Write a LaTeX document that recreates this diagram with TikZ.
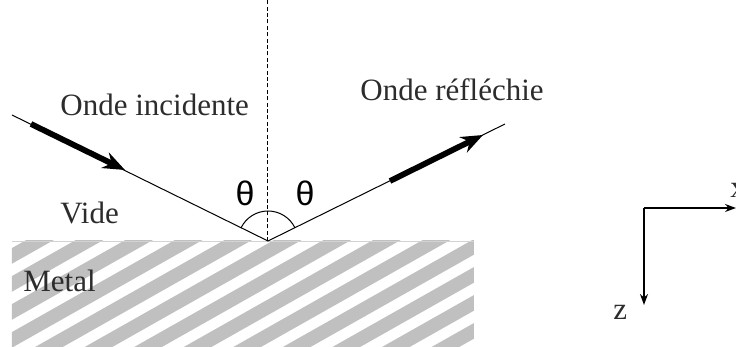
\documentclass[tikz,border=0pt]{standalone}
\usepackage{fontspec}
\setmainfont{Liberation Serif}
\newfontfamily\thetafont{Liberation Sans}
\usetikzlibrary{arrows.meta,positioning}
\definecolor{stripegray}{HTML}{C0C0C0}
\definecolor{darktext}{HTML}{2C2C2C}

\begin{document}
\begin{tikzpicture}[x=0.5pt,y=0.5pt,
  ray/.style={line width=0.5pt},
  wave/.style={line width=2.9pt,-{Stealth[length=11pt,width=8.5pt]}},
  axis/.style={line width=0.7pt,-{Stealth[length=5.5pt,width=4pt]}},
  lbl/.style={font=\fontsize{15.5}{18}\selectfont,text=darktext,inner sep=0pt},
  anglbl/.style={font=\thetafont\fontsize{17}{20}\selectfont,inner sep=0pt}]
\useasboundingbox (0,0) rectangle (736,347);
% metal (hatched)
\begin{scope}
  \clip (12,0) rectangle (474,106);
  \foreach \k in {-14,...,2}
    \draw[stripegray,line width=6.8pt] (0,{84.35+28*\k}) -- (500,{366.85+28*\k});
\end{scope}
\draw[stripegray!70,line width=0.4pt] (12,106) -- (474,106);
% normal and rays
\coordinate (O) at (268,106);
\coordinate (normtop) at (268,347);
\coordinate (src) at (12,232);
\coordinate (dst) at (505,223);
\draw[ray,dash pattern=on 2pt off 1.2pt] (O) -- (normtop);
\draw[ray] (src) -- (O) -- (dst);
\coordinate (inA) at (31,223);
\coordinate (inB) at (125,177);
\coordinate (reA) at (390,166);
\coordinate (reB) at (483,212);
\draw[wave] (inA) -- (inB);
\draw[wave] (reA) -- (reB);
% angles
\draw[ray] (O) ++(90:30) arc[start angle=90,end angle=153.8,radius=30];
\draw[ray] (O) ++(26.2:30) arc[start angle=26.2,end angle=90,radius=30];
\node[anglbl] (thL) at (245,154) {θ};
\node[anglbl] (thR) at (305,154) {θ};
% labels
\node[lbl,anchor=base west] (inc) at (60,231) {Onde incidente};
\node[lbl,anchor=base west] (refl) at (360,246) {Onde réfléchie};
\node[lbl,anchor=base west] (vide) at (60,123) {Vide};
\node[lbl,anchor=base west] (metal) at (23,55) {Metal};
% axes
\coordinate (ax0) at (644,139);
\coordinate (axX) at (736,139);
\coordinate (axZ) at (644,42);
\draw[axis] (ax0) -- (axX);
\draw[axis,line width=0.9pt] (ax0) -- (axZ);
\node[lbl,anchor=base west] (xlbl) at (730,149) {x};
\node[lbl,anchor=base west] (zlbl) at (613,27) {z};
\end{tikzpicture}
\end{document}
